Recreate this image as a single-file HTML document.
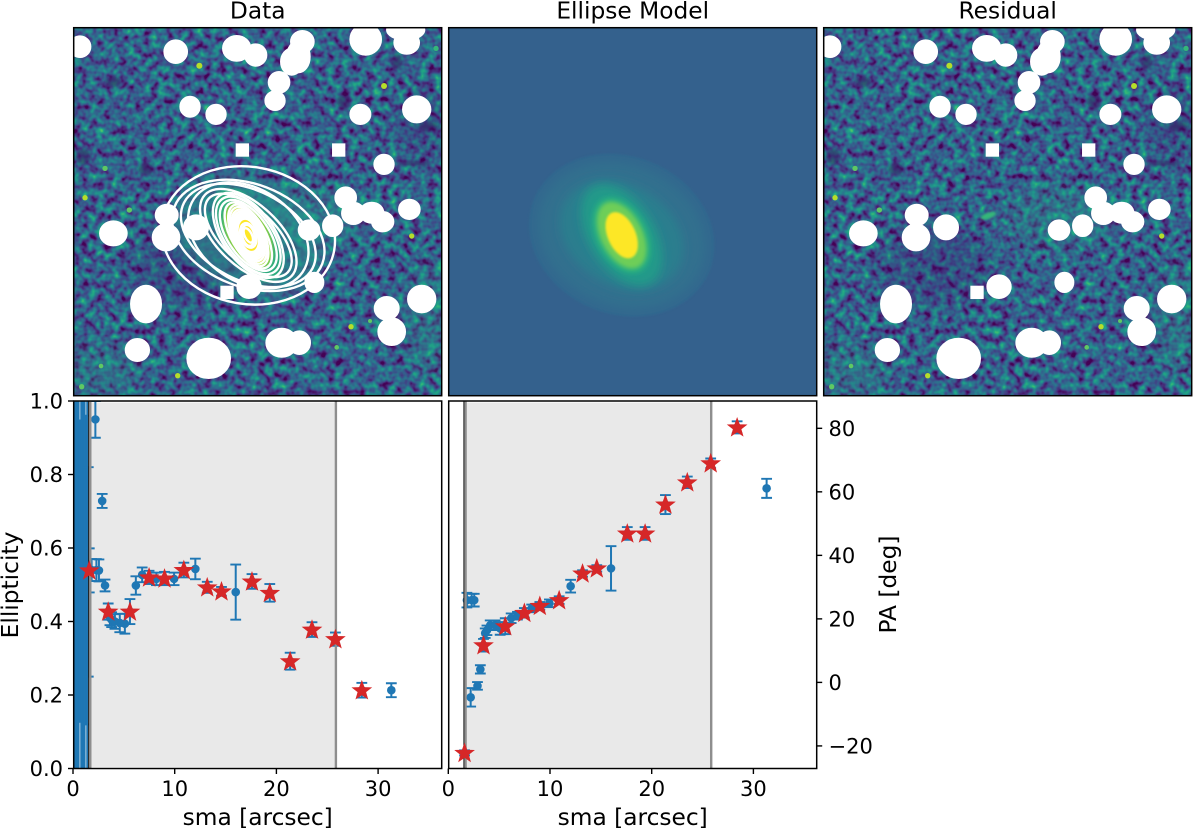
<!DOCTYPE html>
<html>
<head>
<meta charset="utf-8">
<style>
html,body{margin:0;padding:0;background:#fff}
svg{display:block;font-family:"DejaVu Sans","Liberation Sans",sans-serif;fill:#000}
</style>
</head>
<body>
<svg id="fig" width="1200" height="828" viewBox="0 0 1200 828" xmlns="http://www.w3.org/2000/svg">
<defs>
  <filter id="noise" filterUnits="userSpaceOnUse" x="0" y="0" width="368" height="368" color-interpolation-filters="sRGB">
    <feTurbulence type="fractalNoise" baseFrequency="0.13" numOctaves="2" seed="7"/>
    <feColorMatrix type="matrix" values="1.05 0 0 0 -0.22  1.05 0 0 0 -0.22  1.05 0 0 0 -0.22  0 0 0 0 1"/>
    <feComponentTransfer>
      <feFuncR type="table" tableValues="0.267 0.282 0.255 0.208 0.165 0.129 0.133 0.267 0.478 0.741 0.992"/>
      <feFuncG type="table" tableValues="0.004 0.141 0.267 0.373 0.471 0.569 0.659 0.749 0.820 0.875 0.906"/>
      <feFuncB type="table" tableValues="0.329 0.459 0.529 0.553 0.557 0.549 0.518 0.439 0.318 0.149 0.145"/>
    </feComponentTransfer>
  </filter>
  <filter id="b1" x="-30%" y="-30%" width="160%" height="160%"><feGaussianBlur stdDeviation="1"/></filter>
  <filter id="b2" x="-30%" y="-30%" width="160%" height="160%"><feGaussianBlur stdDeviation="2.2"/></filter>
  <filter id="b4" x="-40%" y="-40%" width="180%" height="180%"><feGaussianBlur stdDeviation="4.5"/></filter>
  <filter id="b12" x="-60%" y="-60%" width="220%" height="220%"><feGaussianBlur stdDeviation="36"/></filter>

  <clipPath id="clipImg"><rect x="0" y="0" width="368" height="368"/></clipPath>
  <clipPath id="clipEll"><rect x="73.7" y="401" width="368" height="367.5"/></clipPath>
  <clipPath id="clipPa"><rect x="448.7" y="401" width="368" height="367.5"/></clipPath>

  <g id="field">
    <rect x="0" y="0" width="368" height="368" filter="url(#noise)"/>
    <g transform="scale(.33333) translate(-41 -23)">
      <g filter="url(#b12)" opacity=".25">
        <ellipse cx="380" cy="740" rx="170" ry="120" fill="#3b1f70"/>
        <ellipse cx="1090" cy="300" rx="70" ry="90" fill="#3b1f70"/>
        <ellipse cx="1110" cy="900" rx="70" ry="170" fill="#22a884"/>
        <ellipse cx="740" cy="590" rx="160" ry="90" fill="#22a884"/>
        <ellipse cx="120" cy="1050" rx="120" ry="80" fill="#22a884"/>
      </g>
      <g filter="url(#b4)" fill="#38185f" opacity=".55">
        <ellipse cx="258" cy="447" rx="22" ry="18"/>
        <ellipse cx="850" cy="245" rx="18" ry="22"/>
        <ellipse cx="1105" cy="320" rx="26" ry="13"/>
        <ellipse cx="1060" cy="430" rx="50" ry="7"/>
        <ellipse cx="160" cy="185" rx="22" ry="16"/>
        <ellipse cx="70" cy="410" rx="20" ry="24"/>
        <ellipse cx="1010" cy="125" rx="16" ry="22"/>
      </g>
      <g fill="#b5de2b" filter="url(#b1)">
        <circle cx="418" cy="137" r="9"/><circle cx="972" cy="198" r="9"/>
        <circle cx="135" cy="445" r="8" fill="#5ec962"/><circle cx="75" cy="533" r="8"/>
        <circle cx="208" cy="570" r="8" fill="#5ec962"/><circle cx="1055" cy="648" r="8"/>
        <circle cx="873" cy="920" r="8"/><circle cx="930" cy="903" r="6" fill="#5ec962"/>
        <circle cx="830" cy="982" r="7" fill="#5ec962"/><circle cx="353" cy="1067" r="8"/>
        <circle cx="123" cy="1038" r="7" fill="#5ec962"/><circle cx="65" cy="1100" r="8" fill="#5ec962"/>
        <circle cx="1128" cy="85" r="8" fill="#35b779"/>
      </g>
    </g>
  </g>

  <g id="masks" fill="#fff">
    <g transform="scale(.33333) translate(-41 -23)" stroke="#fff" stroke-width="4">
      <ellipse cx="60" cy="80" rx="32" ry="32"/><ellipse cx="347" cy="95" rx="35" ry="35"/>
      <ellipse cx="530" cy="85" rx="42" ry="38"/><ellipse cx="587" cy="105" rx="33" ry="33"/>
      <ellipse cx="727" cy="65" rx="35" ry="33"/><ellipse cx="715" cy="110" rx="35" ry="48"/>
      <ellipse cx="695" cy="125" rx="33" ry="40"/>
      <ellipse cx="657" cy="187" rx="32" ry="32"/><ellipse cx="645" cy="242" rx="30" ry="29"/>
      <ellipse cx="917" cy="58" rx="47" ry="47"/><ellipse cx="1037" cy="30" rx="57" ry="30"/>
      <ellipse cx="1040" cy="68" rx="38" ry="34"/><ellipse cx="390" cy="260" rx="30" ry="31"/>
      <ellipse cx="468" cy="283" rx="30" ry="30"/><ellipse cx="901" cy="283" rx="31" ry="30"/>
      <ellipse cx="1070" cy="268" rx="42" ry="40"/><ellipse cx="972" cy="433" rx="30" ry="30"/>
      <ellipse cx="857" cy="533" rx="32" ry="32"/><ellipse cx="880" cy="580" rx="35" ry="33"/>
      <ellipse cx="935" cy="578" rx="36" ry="31"/><ellipse cx="968" cy="605" rx="33" ry="30"/>
      <ellipse cx="1048" cy="568" rx="32" ry="30"/><ellipse cx="818" cy="617" rx="30" ry="32"/>
      <ellipse cx="747" cy="630" rx="32" ry="30"/><ellipse cx="320" cy="585" rx="34" ry="32"/>
      <ellipse cx="318" cy="652" rx="41" ry="40"/><ellipse cx="408" cy="622" rx="37" ry="37"/>
      <ellipse cx="160" cy="640" rx="41" ry="37"/><ellipse cx="763" cy="787" rx="28" ry="30"/>
      <ellipse cx="567" cy="800" rx="36" ry="35"/><ellipse cx="258" cy="852" rx="46" ry="56"/>
      <ellipse cx="232" cy="990" rx="36" ry="34"/><ellipse cx="446" cy="1015" rx="65" ry="60"/>
      <ellipse cx="665" cy="968" rx="47" ry="43"/><ellipse cx="718" cy="968" rx="33" ry="35"/>
      <ellipse cx="980" cy="865" rx="37" ry="35"/><ellipse cx="995" cy="935" rx="41" ry="41"/>
      <ellipse cx="1085" cy="837" rx="42" ry="41"/>
      <rect x="529" y="372" width="36" height="36"/><rect x="818" y="372" width="36" height="36"/>
      <rect x="483" y="799" width="36" height="36"/>
    </g>
  </g>
</defs>

<rect width="1200" height="828" fill="#fff"/>

<!-- Data image -->
<g transform="translate(73.7 27.7)" clip-path="url(#clipImg)">
  <use href="#field"/>
  <g transform="translate(174.6 207.7)">
    <ellipse rx="78" ry="56" transform="rotate(25)" fill="#2a8f8c" opacity=".55" filter="url(#b4)"/>
    <ellipse rx="26" ry="52" transform="rotate(-30)" fill="#2fb47c" opacity=".85" filter="url(#b2)"/>
    <ellipse rx="20" ry="36" transform="rotate(-27)" fill="#a5db36" filter="url(#b2)"/>
    <ellipse rx="15" ry="29" transform="rotate(-24)" fill="#fde725" filter="url(#b1)"/>
  </g>
  <g id="contours" transform="translate(174.6 207.7)" fill="none" stroke="#fff" stroke-width="2.4"></g>
  <use href="#masks"/>
</g>

<!-- Model image -->
<g transform="translate(448.7 27.7)" clip-path="url(#clipImg)">
  <rect width="368" height="368" fill="#34618d"/>
  <g transform="translate(173 207.5)">
    <ellipse rx="95" ry="79" transform="rotate(22)" fill="#33688e" filter="url(#b1)"/>
    <ellipse rx="86" ry="70" transform="rotate(24)" fill="#31708e" filter="url(#b4)"/>
    <ellipse rx="66" ry="50" transform="rotate(32)" fill="#2b7e8e" filter="url(#b4)"/>
    <ellipse rx="33" ry="56" transform="rotate(-32)" fill="#219a89" filter="url(#b4)"/>
    <ellipse rx="26" ry="41" transform="rotate(-27)" fill="#27ad81" filter="url(#b2)"/>
    <ellipse rx="21" ry="36" transform="rotate(-27)" fill="#6ece58" filter="url(#b2)"/>
    <ellipse rx="14" ry="24.5" transform="rotate(-24)" fill="#fde725" filter="url(#b1)"/>
  </g>
</g>

<!-- Residual image -->
<g transform="translate(823.7 27.7)" clip-path="url(#clipImg)">
  <use href="#field"/>
  <g transform="translate(164.6 188)" filter="url(#b1)"><ellipse rx="8" ry="3" transform="rotate(-20)" fill="#35b779"/></g>
  <use href="#masks"/>
</g>

<g id="plot"></g>

<g font-size="23.3" text-anchor="middle">
  <text x="257.7" y="18.5">Data</text>
  <text x="632.7" y="18.5">Ellipse Model</text>
  <text x="1007.7" y="18.5">Residual</text>
  <text x="257.7" y="825">sma [arcsec]</text>
  <text x="632.7" y="825">sma [arcsec]</text>
  <text transform="translate(18 585) rotate(-90)">Ellipticity</text>
  <text transform="translate(896 584.5) rotate(-90)">PA [deg]</text>
</g>

<g fill="none" stroke="#000" stroke-width="1.5">
  <rect x="73.7" y="27.7" width="368" height="368"/>
  <rect x="448.7" y="27.7" width="368" height="368"/>
  <rect x="823.7" y="27.7" width="368" height="368"/>
  <rect x="73.7" y="401" width="368" height="367.5"/>
  <rect x="448.7" y="401" width="368" height="367.5"/>
</g>

<script>
// Blue isophote measurements
const sma    = [1.83, 2.2, 2.3, 2.55, 2.87, 3.15, 3.63, 3.8, 4.12, 4.6, 5.1, 6.18, 6.8, 8.2, 9.94, 12.03, 16.0, 31.3];
const ell    = [0.54, 0.95, 0.54, 0.539, 0.728, 0.498, 0.41, 0.405, 0.40, 0.396, 0.394, 0.498, 0.527, 0.516, 0.516, 0.543, 0.48, 0.213];
const ellErr = [0.03, 0.05, 0.03, 0.03, 0.019, 0.016, 0.02, 0.02, 0.02, 0.025, 0.027, 0.025, 0.02, 0.017, 0.017, 0.028, 0.075, 0.019];
const pa     = [25.9, -4.7, 25.9, 25.9, -1.1, 4.1, 15.5, 16.4, 18, 18, 17, 20.2, 21, 23.3, 24.9, 30.3, 35.9, 61.1];
const paErr  = [2.3, 2.9, 2, 2, 1.2, 1.3, 1.5, 1.5, 1.5, 1.5, 2, 1.5, 1.2, 1.2, 1.2, 2, 7, 3];

// Measurements highlighted with stars
const starSma    = [1.6, 3.46, 5.6, 7.48, 9.0, 10.9, 13.2, 14.6, 17.6, 19.35, 21.35, 23.5, 25.8, 28.4];
const starEll    = [0.539, 0.427, 0.427, 0.52, 0.517, 0.54, 0.493, 0.482, 0.509, 0.478, 0.292, 0.378, 0.352, 0.213];
const starEllErr = [0.06, 0.022, 0.034, 0.018, 0.018, 0.02, 0.015, 0.012, 0.02, 0.024, 0.023, 0.02, 0.018, 0.02];
const starPa     = [-22.2, 11.7, 17.7, 21.9, 24.1, 25.9, 34.3, 35.9, 46.9, 46.9, 56, 63, 69, 80.3];
const starPaErr  = [0.8, 2, 2.5, 1.5, 1.2, 1.2, 1, 1, 2, 2, 3, 1.8, 1.5, 1.9];

// Innermost, badly constrained ellipticity measurements
const bandSma = [0.03, 0.16, 0.29, 0.42, 0.55, 0.68, 0.81, 0.94, 1.07, 1.27, 1.14, 1.4, 1.5];
const bandEll = [1.4, 1.4, 1.4, 1.4, 1.4, 0.537, 1.4, 1.4, 1.4, 0.54, 1.4, 1.4, 0.535];
const bandErr = [1.6, 1.6, 1.6, 1.6, 1.6, 0.41, 1.6, 1.6, 1.6, 0.42, 1.6, 1.6, 0.285];

// Fit limits
const innerLimit = 1.7;
const blackLimit = 1.55;
const outerLimit = 25.85;

// Tick labels
const smaTicks = [0, 10, 20, 30];
const ellTicks = [0, 0.2, 0.4, 0.6, 0.8, 1.0];
const paTicks  = [-20, 0, 20, 40, 60, 80];

const NS = 'http://www.w3.org/2000/svg';
const plot = document.getElementById('plot');
const BLUE = '#1f77b4';

const xEll = v => 73 + 10.17 * v;
const xPa  = v => 448.3 + 10.17 * v;
const yEll = v => 768.5 - 367.5 * v;
const yPa  = v => 682.4 - 3.176 * v;

function mk(parent, tag, attrs, text) {
  const el = document.createElementNS(NS, tag);
  for (const k in attrs) el.setAttribute(k, attrs[k]);
  if (text !== undefined) el.textContent = text;
  parent.appendChild(el);
  return el;
}

function errorBar(g, x, y, yTop, yBot, r) {
  mk(g, 'line', {x1: x, x2: x, y1: yTop, y2: yBot, stroke: BLUE, 'stroke-width': 2});
  mk(g, 'line', {x1: x - 5.4, x2: x + 5.4, y1: yTop, y2: yTop, stroke: BLUE, 'stroke-width': 1.9});
  mk(g, 'line', {x1: x - 5.4, x2: x + 5.4, y1: yBot, y2: yBot, stroke: BLUE, 'stroke-width': 1.9});
  if (r) mk(g, 'circle', {cx: x, cy: y, r: r, fill: BLUE});
}

function starPoints(cx, cy) {
  const pts = [];
  for (let i = 0; i < 10; i++) {
    const R = i % 2 ? 4.1 : 10;
    const a = -Math.PI / 2 + i * Math.PI / 5;
    pts.push((cx + R * Math.cos(a)).toFixed(2) + ',' + (cy + 0.5 + R * Math.sin(a)).toFixed(2));
  }
  return pts.join(' ');
}

function drawPanel(name, clip, xf, yf, ys, ysErr, stars, starsErr, left) {
  const g = mk(plot, 'g', {'clip-path': 'url(#' + clip + ')'});
  
  

  const shade = mk(g, 'rect', {x: xf(innerLimit), y: 402.6, width: xf(outerLimit) - xf(innerLimit), height: 364.3, fill: '#e9e9e9'});
  
  

  if (left) {
    bandSma.forEach((s, i) => {
      const bg = mk(g, 'g', {});
      
      
      errorBar(bg, xf(s), yf(bandEll[i]), yf(bandEll[i] + bandErr[i]), yf(bandEll[i] - bandErr[i]), 0);
    });
  }
  sma.forEach((s, i) => {
    const pg = mk(g, 'g', {});
    
    
    errorBar(pg, xf(s), yf(ys[i]), yf(ys[i] + ysErr[i]), yf(ys[i] - ysErr[i]), 4.3);
  });
  starSma.forEach((s, i) => {
    const pg = mk(g, 'g', {});
    
    
    errorBar(pg, xf(s), yf(stars[i]), yf(stars[i] + starsErr[i]), yf(stars[i] - starsErr[i]), 4.3);
  });

  const inner = mk(g, 'line', {x1: xf(blackLimit), x2: xf(blackLimit), y1: 401, y2: 769, stroke: '#222', 'stroke-width': 1.4});
  
  
  const l1 = mk(g, 'line', {x1: xf(innerLimit), x2: xf(innerLimit), y1: 401, y2: 769, stroke: '#8e8e8e', 'stroke-width': 2.4});
  
  
  const l2 = mk(g, 'line', {x1: xf(outerLimit), x2: xf(outerLimit), y1: 401, y2: 769, stroke: '#8e8e8e', 'stroke-width': 2.4});
  
  

  starSma.forEach((s, i) => {
    const st = mk(g, 'polygon', {points: starPoints(xf(s), yf(stars[i])), fill: '#d62728', stroke: '#d62728', 'stroke-width': 0.6});
    
    
  });

  smaTicks.forEach(t => {
    const x = xf(t);
    const tick = mk(plot, 'line', {x1: x, x2: x, y1: 768.5, y2: 774, stroke: '#000', 'stroke-width': 1.4});
    
    
    const lab = mk(plot, 'text', {x: x, y: 796, 'font-size': 21, 'text-anchor': 'middle'}, String(t));
    
    
  });
}

drawPanel('ellipticity', 'clipEll', xEll, yEll, ell, ellErr, starEll, starEllErr, true);
drawPanel('pa', 'clipPa', xPa, yPa, pa, paErr, starPa, starPaErr, false);

ellTicks.forEach(t => {
  const y = yEll(t);
  const tick = mk(plot, 'line', {x1: 68, x2: 73.5, y1: y, y2: y, stroke: '#000', 'stroke-width': 1.4});
  
  
  const lab = mk(plot, 'text', {x: 63, y: y + 7.6, 'font-size': 21, 'text-anchor': 'end'}, t.toFixed(1));
  
  
});

paTicks.forEach(t => {
  const y = yPa(t);
  const tick = mk(plot, 'line', {x1: 816.7, x2: 822.2, y1: y, y2: y, stroke: '#000', 'stroke-width': 1.4});
  
  
  const lab = mk(plot, 'text', {x: 828.5, y: y + 7.6, 'font-size': 21}, String(t).replace('-', '\u2212'));
  
  
});

// Isophote contours over the data image, from the same measurements
const contourGroup = document.getElementById('contours');
const imgScale = 3.07;
function contour(s, e, p) {
  const c = mk(contourGroup, 'ellipse', {rx: imgScale * s * (1 - e), ry: imgScale * s, transform: 'rotate(' + (-p) + ')'});
  
  
}
starSma.forEach((s, i) => { if (s > 2) contour(s, starEll[i], starPa[i]); });
sma.forEach((s, i) => { if (s === 2.55 || s === 4.12 || (s > 6 && s < 30)) contour(s, ell[i], pa[i]); });
</script>
</svg>
</body>
</html>
